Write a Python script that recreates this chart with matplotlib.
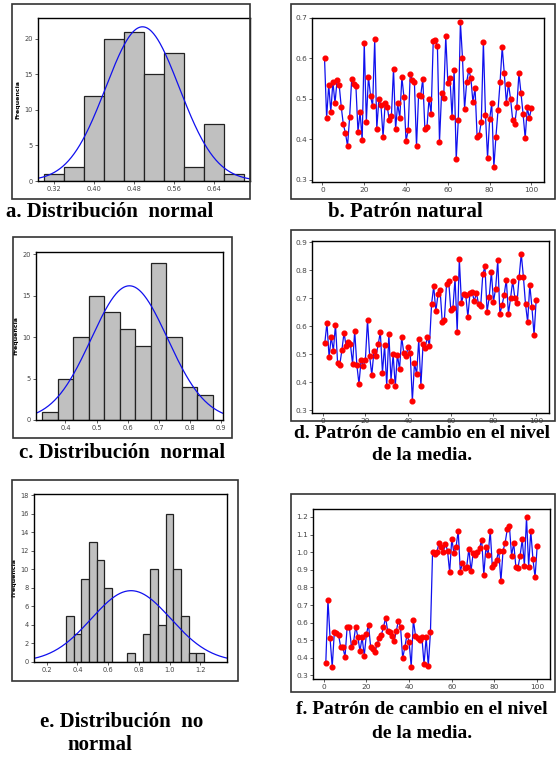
import numpy as np
import matplotlib
matplotlib.use("Agg")
import matplotlib.pyplot as plt
from matplotlib.patches import Rectangle

W, H = 556, 757

# histogramas: centros de clase y frecuencias
centros_a = [0.32, 0.36, 0.40, 0.44, 0.48, 0.52, 0.56, 0.60, 0.64, 0.68]
frec_a = [1, 2, 12, 20, 21, 15, 18, 2, 8, 1]
media_a, desv_a = 0.497, 0.0735

centros_c = [0.35, 0.40, 0.45, 0.50, 0.55, 0.60, 0.65, 0.70, 0.75, 0.80, 0.85]
frec_c = [1, 5, 10, 15, 13, 11, 9, 19, 10, 4, 3]
media_c, desv_c = 0.606, 0.123

centros_e = [0.35, 0.40, 0.45, 0.50, 0.55, 0.60, 0.65, 0.70, 0.75, 0.80,
             0.85, 0.90, 0.95, 1.00, 1.05, 1.10, 1.15, 1.20]
frec_e = [5, 3, 9, 13, 11, 8, 0, 0, 1, 0, 3, 10, 4, 16, 10, 5, 1, 1]
media_e, desv_e = 0.749, 0.259

# series de tiempo (100 observaciones)
serie_b = [0.600, 0.453, 0.535, 0.468, 0.543, 0.489, 0.547, 0.535, 0.480, 0.437,
           0.416, 0.384, 0.455, 0.550, 0.537, 0.533, 0.419, 0.468, 0.398, 0.638,
           0.444, 0.555, 0.508, 0.482, 0.647, 0.427, 0.499, 0.485, 0.406, 0.490,
           0.481, 0.447, 0.459, 0.575, 0.425, 0.489, 0.453, 0.554, 0.504, 0.396,
           0.423, 0.561, 0.548, 0.541, 0.383, 0.510, 0.508, 0.550, 0.427, 0.430,
           0.501, 0.464, 0.642, 0.646, 0.631, 0.394, 0.515, 0.502, 0.655, 0.540,
           0.553, 0.456, 0.571, 0.351, 0.449, 0.690, 0.601, 0.476, 0.542, 0.571,
           0.552, 0.492, 0.528, 0.406, 0.412, 0.444, 0.641, 0.460, 0.355, 0.451,
           0.489, 0.331, 0.407, 0.472, 0.543, 0.628, 0.563, 0.490, 0.538, 0.500,
           0.449, 0.437, 0.481, 0.563, 0.514, 0.462, 0.403, 0.479, 0.453, 0.478]

serie_d = [0.540, 0.613, 0.490, 0.562, 0.513, 0.606, 0.467, 0.462, 0.515, 0.577,
           0.528, 0.545, 0.535, 0.466, 0.583, 0.462, 0.394, 0.480, 0.458, 0.480,
           0.623, 0.494, 0.426, 0.510, 0.495, 0.535, 0.579, 0.434, 0.533, 0.387,
           0.574, 0.406, 0.500, 0.386, 0.499, 0.446, 0.562, 0.503, 0.494, 0.525,
           0.505, 0.333, 0.469, 0.428, 0.553, 0.386, 0.535, 0.524, 0.562, 0.530,
           0.679, 0.744, 0.653, 0.714, 0.729, 0.616, 0.623, 0.750, 0.763, 0.660,
           0.665, 0.772, 0.580, 0.840, 0.684, 0.714, 0.713, 0.634, 0.719, 0.722,
           0.690, 0.719, 0.680, 0.672, 0.786, 0.814, 0.652, 0.704, 0.795, 0.688,
           0.735, 0.836, 0.645, 0.675, 0.712, 0.767, 0.645, 0.701, 0.762, 0.701,
           0.684, 0.775, 0.859, 0.778, 0.679, 0.615, 0.749, 0.668, 0.569, 0.695]

serie_f = [0.371, 0.731, 0.510, 0.349, 0.547, 0.543, 0.528, 0.459, 0.459, 0.405,
           0.577, 0.575, 0.464, 0.491, 0.577, 0.520, 0.438, 0.518, 0.411, 0.533,
           0.589, 0.462, 0.453, 0.434, 0.476, 0.512, 0.530, 0.574, 0.627, 0.552,
           0.545, 0.522, 0.497, 0.551, 0.612, 0.575, 0.399, 0.459, 0.531, 0.491,
           0.349, 0.616, 0.526, 0.510, 0.499, 0.518, 0.363, 0.516, 0.355, 0.545,
           0.999, 0.987, 0.999, 1.051, 1.031, 0.999, 1.049, 1.009, 0.886, 1.077,
           0.993, 1.028, 1.121, 0.890, 0.939, 0.911, 0.918, 1.020, 0.892, 0.993,
           0.982, 0.999, 1.022, 1.070, 0.871, 1.031, 0.982, 1.121, 0.916, 0.932,
           0.957, 1.009, 0.834, 1.007, 1.054, 1.131, 1.146, 0.980, 1.051, 0.918,
           0.911, 0.980, 1.072, 0.924, 1.198, 0.918, 1.120, 0.962, 0.857, 1.035]

obs = np.arange(1, 101)

fig = plt.figure(figsize=(W / 100, H / 100), dpi=100)
fig.patch.set_facecolor("white")


def caja(x0, y0, x1, y1):
    # marco exterior de cada grafica (en pixeles)
    r = Rectangle((x0 / W, 1 - y1 / H), (x1 - x0) / W, (y1 - y0) / H,
                  transform=fig.transFigure, fill=False, ec="#333333", lw=1.2)
    fig.add_artist(r)


def ejes(x0, y0, x1, y1):
    ax = fig.add_axes([x0 / W, 1 - y1 / H, (x1 - x0) / W, (y1 - y0) / H])
    for s in ax.spines.values():
        s.set_linewidth(1.0)
        s.set_color("black")
    ax.tick_params(length=2, width=0.6, pad=1.5, labelsize=4.8, colors="#444444")
    return ax


def histograma(ax, centros, frec, ancho, media, desv, xlim, ylim, xt, yt, fmt):
    ax.bar(centros, frec, width=ancho, color="#c0c0c0", edgecolor="#222222", lw=0.9)
    xs = np.linspace(xlim[0], xlim[1], 300)
    ys = sum(frec) * ancho / (desv * np.sqrt(2 * np.pi)) * np.exp(-0.5 * ((xs - media) / desv) ** 2)
    ax.plot(xs, ys, color="#1010ee", lw=0.9)
    ax.set_xlim(xlim)
    ax.set_ylim(ylim)
    ax.set_xticks(xt)
    ax.set_xticklabels([fmt % v for v in xt])
    ax.set_yticks(yt)
    ax.set_ylabel("Frequencia", fontsize=4.5, fontweight="bold", labelpad=3)


def serie(ax, y, ylim, yt):
    ax.plot(obs, y, color="#1010ee", lw=0.9, marker="o", ms=3.4,
            mfc="#ff0000", mec="#ff0000", zorder=3)
    ax.set_xlim(-5, 106)
    ax.set_ylim(ylim)
    ax.set_xticks([0, 20, 40, 60, 80, 100])
    ax.set_yticks(yt)
    ax.tick_params(labelsize=5.3)


fuente = dict(family="Liberation Serif", fontweight="bold", fontsize=15, color="black")
fuente2 = dict(fuente, fontsize=14)

# a
caja(12, 4, 250, 199)
ax = ejes(38, 18, 250, 181)
histograma(ax, centros_a, frec_a, 0.04, media_a, desv_a, (0.288, 0.712), (0, 22.95),
           [0.32, 0.40, 0.48, 0.56, 0.64], [0, 5, 10, 15, 20], "%.2f")
fig.text(110 / W, 1 - 212 / H, "a. Distribución  normal", ha="center", va="center", **fuente)

# b
caja(291, 4, 555, 199)
ax = ejes(312, 18, 544, 182)
serie(ax, serie_b, (0.295, 0.7), [0.3, 0.4, 0.5, 0.6, 0.7])
fig.text(405 / W, 1 - 212 / H, "b. Patrón natural", ha="center", va="center", **fuente)

# c
caja(13, 237, 232, 438)
ax = ejes(36, 252, 223, 420)
histograma(ax, centros_c, frec_c, 0.05, media_c, desv_c, (0.305, 0.9075), (0, 20.3),
           [0.4, 0.5, 0.6, 0.7, 0.8, 0.9], [0, 5, 10, 15, 20], "%.1f")
fig.text(122 / W, 1 - 453 / H, "c. Distribución  normal", ha="center", va="center", **fuente)

# d
caja(291, 230, 555, 421)
ax = ejes(312, 241, 549, 413)
serie(ax, serie_d, (0.29, 0.905), [0.3, 0.4, 0.5, 0.6, 0.7, 0.8, 0.9])
fig.text(422 / W, 1 - 433 / H, "d. Patrón de cambio en el nivel", ha="center", va="center", **fuente2)
fig.text(422 / W, 1 - 456 / H, "de la media.", ha="center", va="center", **fuente2)

# e
caja(12, 480, 238, 681)
ax = ejes(34, 494, 227, 662)
histograma(ax, centros_e, frec_e, 0.05, media_e, desv_e, (0.117, 1.374), (0, 18.14),
           [0.2, 0.4, 0.6, 0.8, 1.0, 1.2], list(range(0, 19, 2)), "%.1f")
fig.text(122 / W, 1 - 722 / H, "e. Distribución  no", ha="center", va="center", **fuente)
fig.text(100 / W, 1 - 745 / H, "normal", ha="center", va="center", **fuente)

# f
caja(291, 494, 555, 692)
ax = ejes(313, 509, 550, 679)
serie(ax, serie_f, (0.28, 1.245), [0.3, 0.4, 0.5, 0.6, 0.7, 0.8, 0.9, 1.0, 1.1, 1.2])
fig.text(422 / W, 1 - 710 / H, "f. Patrón de cambio en el nivel", ha="center", va="center", **fuente2)
fig.text(422 / W, 1 - 733 / H, "de la media.", ha="center", va="center", **fuente2)

fig.savefig("out.png", dpi=100)
